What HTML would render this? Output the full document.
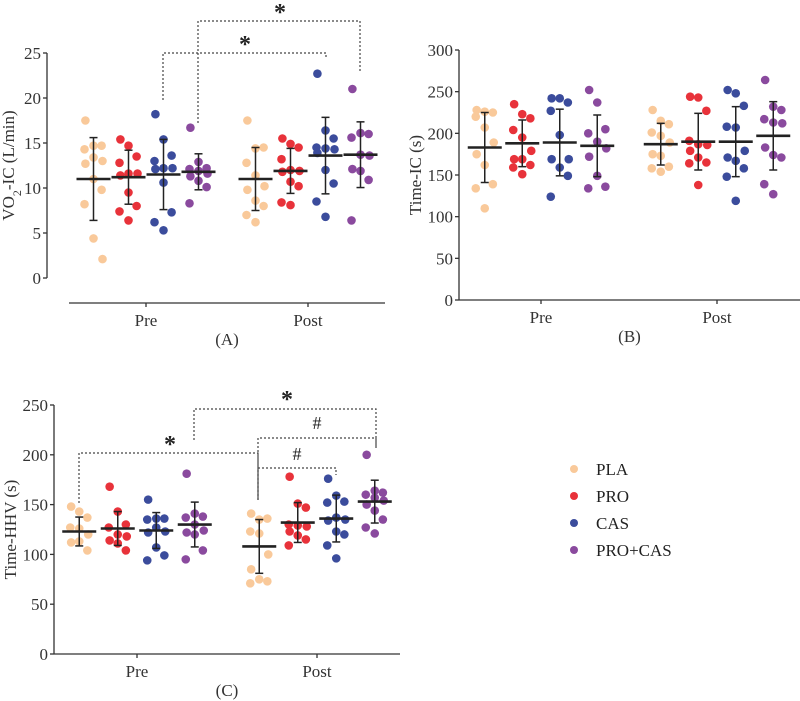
<!DOCTYPE html>
<html><head><meta charset="utf-8"><style>
html,body{margin:0;padding:0;background:#fff;}
svg{display:block;font-family:"Liberation Serif",serif;}
</style></head><body>
<svg id="chart" width="800" height="701" viewBox="0 0 800 701" xmlns="http://www.w3.org/2000/svg">
<g id="legend" font-size="17" fill="#222">
  <g><circle cx="574" cy="469" r="4" fill="#f9c99a"/><text x="596" y="475">PLA</text></g>
  <g><circle cx="574" cy="496" r="4" fill="#e8323a"/><text x="596" y="502">PRO</text></g>
  <g><circle cx="574" cy="523" r="4" fill="#3b4c9c"/><text x="596" y="529">CAS</text></g>
  <g><circle cx="574" cy="550" r="4" fill="#8a4a9e"/><text x="596" y="556">PRO+CAS</text></g>
</g>
</svg>
<script>
const groups = ["PLA","PRO","CAS","PRO+CAS"];
const phases = ["Pre","Post"];
const colors = ["#f9c99a","#e8323a","#3b4c9c","#8a4a9e"];

const aTicks = [0,5,10,15,20,25];
const aPoints = [
 [[17.5,14.7,14.7,14.3,13.4,13,12.7,11,9.8,8.2,4.4,2.1],[15.4,14.7,13.5,12.8,11.6,11.6,11.4,9.5,8,7.4,6.4],[18.2,15.4,13.6,13,12.2,12.2,12.1,10.6,7.3,6.2,5.3],[16.7,12.9,12.2,12.1,11.9,11.6,11.3,10.8,10.1,8.3]],
 [[17.5,14.4,14.5,12.8,11.4,10.2,9.8,8.6,8,7,6.2],[15.5,14.9,14.5,13.2,12,11.9,11.8,10.7,10.2,8.4,8.1],[22.7,16.4,15.5,14.5,14.4,14.3,13.9,12,10.5,8.5,6.8],[21,16.1,16,15.6,13.7,13.6,12.1,11.9,10.9,6.4]]
];
const aMeans = [[11,11.2,11.5,11.8],[11,11.9,13.6,13.7]];
const aSD = [[4.6,3,3.9,2],[3.5,2.5,4.25,3.65]];

const bTicks = [0,50,100,150,200,250,300];
const bPoints = [
 [[228,226,225,220,207,189,175,162,139,134,110],[235,223,218,204,195,179,169,169,162,159,151],[242,242,237,227,198,169,169,159,149,124],[252,237,205,200,190,182,172,149,136,134]],
 [[228,215,211,201,197,189,175,173,160,158,154],[244,243,227,191,187,186,179,171,165,164,138],[252,248,233,208,207,179,171,167,158,148,119],[264,232,228,217,213,212,183,174,171,139,127]]
];
const bMeans = [[183,188,189,185],[187,190,190,197]];
const bSD = [[42,28,40,37],[25,34,42,41]];

const cTicks = [0,50,100,150,200,250];
const cPoints = [
 [[148,143,137,127,126,120,112,113,104],[168,143,130,127,120,118,114,111,104],[155,136,136,135,127,123,122,107,99,94],[181,141,138,137,130,124,122,120,104,95]],
 [[141,135,136,123,121,100,85,75,73,71],[178,151,147,130,129,128,123,119,115,109],[176,159,153,152,137,135,134,123,120,109,96],[200,164,162,160,157,154,150,144,135,127,121]]
];
const cMeans = [[123,126,124,130],[108,132,136,153]];
const cSD = [[14.5,17,18,22.5],[27,20,23.5,21.5]];

const NS="http://www.w3.org/2000/svg";
const svg=document.getElementById('chart');
function mk(tag,attrs,parent){const e=document.createElementNS(NS,tag);for(const k in attrs)e.setAttribute(k,attrs[k]);(parent||svg).appendChild(e);return e;}

function panel(cfg,ticks,points,means,sds){
  const g=mk('g',{});
  
  
  const ymin=ticks[0],ymax=ticks[ticks.length-1];
  const y=v=>cfg.y0+(cfg.y1-cfg.y0)*(v-ymin)/(ymax-ymin);
  const xs=(p,gi)=>cfg.px[p]+(gi-1.5)*cfg.gap;
  // y axis
  const ya=mk('g',{},g);
  
  
  mk('line',{x1:cfg.ax,x2:cfg.ax,y1:y(ymin),y2:y(ymax),stroke:'#333','stroke-width':1.3},ya);
  ticks.forEach(t=>{
    mk('line',{x1:cfg.ax-4,x2:cfg.ax,y1:y(t),y2:y(t),stroke:'#333','stroke-width':1.3},ya);
    const tx=mk('text',{x:cfg.ax-6,y:y(t)+6,'text-anchor':'end','font-size':17,fill:'#333'},ya);
    tx.textContent=t;
  });
  const tt=mk('text',{x:0,y:0,'text-anchor':'middle','font-size':17,fill:'#333',transform:`translate(${cfg.titleX},${(y(ymin)+y(ymax))/2}) rotate(-90)`},ya);
  
  
  tt.innerHTML=cfg.title;
  // x axis
  const xa=mk('g',{},g);
  
  
  mk('line',{x1:cfg.xl,x2:cfg.xr,y1:cfg.xy,y2:cfg.xy,stroke:'#333','stroke-width':1.3},xa);
  phases.forEach((ph,p)=>{
    mk('line',{x1:cfg.px[p],x2:cfg.px[p],y1:cfg.xy,y2:cfg.xy+4,stroke:'#333','stroke-width':1.3},xa);
    const t=mk('text',{x:cfg.px[p],y:cfg.xy+23,'text-anchor':'middle','font-size':17,fill:'#333'},xa);
    t.textContent=ph;
  });
  const lab=mk('text',{x:(cfg.xl+cfg.xr)/2,y:cfg.xy+42,'text-anchor':'middle','font-size':17,fill:'#333'},g);
  
  
  lab.textContent=cfg.label;
  // series
  phases.forEach((ph,p)=>{
    groups.forEach((gn,gi)=>{
      const sg=mk('g',{},g);
      
      
      const cx=xs(p,gi);
      points[p][gi].forEach((v,i)=>{
        const off=((i%3)-1)*9*(i%2?1:0.9);
        const c=mk('circle',{cx:cx+off,cy:y(v),r:4.3,fill:colors[gi]},sg);
        
        
      });
      const m=means[p][gi],s=sds[p][gi];
      mk('line',{x1:cx,x2:cx,y1:y(m-s),y2:y(m+s),stroke:'#222','stroke-width':1.5},sg);
      mk('line',{x1:cx-4,x2:cx+4,y1:y(m-s),y2:y(m-s),stroke:'#222','stroke-width':1.5},sg);
      mk('line',{x1:cx-4,x2:cx+4,y1:y(m+s),y2:y(m+s),stroke:'#222','stroke-width':1.5},sg);
      mk('line',{x1:cx-17,x2:cx+17,y1:y(m),y2:y(m),stroke:'#222','stroke-width':2.6},sg);
    });
  });
  // brackets
  (cfg.brackets||[]).forEach(b=>{
    const bg=mk('g',{},g);
    
    
    mk('polyline',{points:`${b[0]},${b[1]} ${b[0]},${b[2]} ${b[3]},${b[2]} ${b[3]},${b[4]}`,fill:'none',stroke:'#444','stroke-width':1.2,'stroke-dasharray':'2,2'},bg);
    const t=mk('text',{x:b[5],y:b[6],'text-anchor':'middle','font-size':b[7]=='*'?24:18,'font-weight':b[7]=='*'?'bold':'normal',fill:'#222'},bg);
    t.textContent=b[7];
  });
}

panel({name:'panel-a',y0:278,y1:53,ax:47,xl:69,xr:385,xy:303,px:[146,308],gap:35,titleX:14,label:'(A)',
  title:'VO<tspan baseline-shift="sub" font-size="12">2</tspan>-IC (L/min)',
  brackets:[[163,100,53,326,57,245,52,'*'],[198,123,21,360,73,280,20,'*']]},aTicks,aPoints,aMeans,aSD);
panel({name:'panel-b',y0:300,y1:50,ax:459,xl:459,xr:800,xy:300,px:[541,717],gap:37.5,titleX:421,label:'(B)',
  title:'Time-IC (s)'},bTicks,bPoints,bMeans,bSD);
panel({name:'panel-c',y0:654,y1:405,ax:54,xl:54,xr:400,xy:654,px:[137,317],gap:38.5,titleX:16,label:'(C)',
  title:'Time-HHV (s)',
  brackets:[[79,503,453,258,500,170,452,'*'],[194,440,409,376,448,287,407,'*'],[258,500,438,376,448,317,429,'#'],[258,500,468,336,475,297,460,'#']]},cTicks,cPoints,cMeans,cSD);
</script>
</body></html>
